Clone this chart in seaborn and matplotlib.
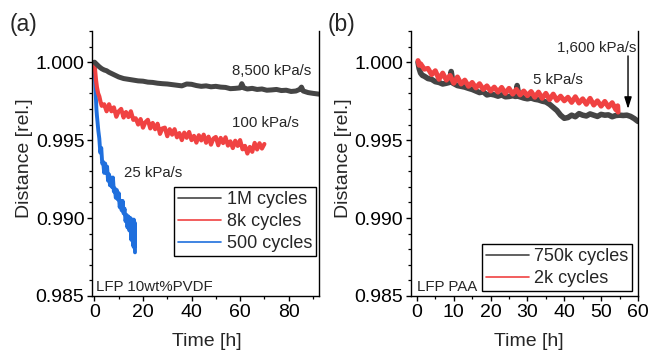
import numpy as np
import pandas as pd
import matplotlib
matplotlib.use("Agg")
import matplotlib.pyplot as plt
from matplotlib.ticker import MultipleLocator, FormatStrFormatter
from matplotlib.lines import Line2D
import seaborn as sns

# ---- data (time [h], relative distance) ----
# panel (a) LFP 10wt%PVDF
a_1m_t = [0, 1, 2, 3, 4, 5, 6, 8, 10, 12, 14, 16, 18, 20, 22, 24, 26, 28, 30, 32,
          34, 36, 38, 40, 42, 44, 46, 48, 50, 52, 54, 56, 58, 60, 60.7, 61.5, 63, 65,
          67, 69, 71, 73, 75, 77, 79, 81, 83, 84.5, 85.3, 86, 88, 90, 92.5]
a_1m_v = [1.0000, 0.99985, 0.9997, 0.99958, 0.9995, 0.99945, 0.99935, 0.9992, 0.99905,
          0.99895, 0.9989, 0.99885, 0.9988, 0.99878, 0.99872, 0.9987, 0.99865, 0.99862,
          0.9986, 0.99856, 0.99852, 0.99848, 0.9986, 0.99858, 0.9985, 0.99845, 0.99848,
          0.99842, 0.99845, 0.9984, 0.99838, 0.9983, 0.99832, 0.99835, 0.99862, 0.99835,
          0.99828, 0.99832, 0.99825, 0.99828, 0.9982, 0.99822, 0.99825, 0.99818, 0.9982,
          0.99812, 0.99815, 0.99825, 0.9984, 0.99815, 0.99805, 0.998, 0.99795]

a_8k_t = [0, 0.3, 0.6, 1.0, 1.5, 2.0, 2.5, 3, 4, 5, 6, 7, 8, 9, 10, 11, 12, 13, 14, 15,
          16, 17, 18, 19, 20, 21, 22, 23, 24, 25, 26, 27, 28, 29, 30, 31, 32, 33, 34,
          35, 36, 37, 38, 39, 40, 41, 42, 43, 44, 45, 46, 47, 48, 49, 50, 51, 52, 53,
          54, 55, 56, 57, 58, 59, 60, 61, 62, 63, 64, 65, 66, 67, 68, 69, 70]
a_8k_v = [1.0000, 0.9994, 0.9989, 0.9984, 0.9980, 0.9978, 0.99745, 0.9972, 0.9973,
          0.99685, 0.9973, 0.99685, 0.9971, 0.9965, 0.99685, 0.9970, 0.99645, 0.9968,
          0.99648, 0.99685, 0.9963, 0.9964, 0.9960, 0.99635, 0.9958, 0.99615, 0.9963,
          0.99575, 0.9961, 0.9957, 0.99605, 0.9954, 0.99575, 0.9958, 0.99525, 0.9957,
          0.99535, 0.9957, 0.99518, 0.99545, 0.9950, 0.99548, 0.99515, 0.99552, 0.9950,
          0.99527, 0.99484, 0.99531, 0.99498, 0.99535, 0.99483, 0.99522, 0.99471,
          0.9951, 0.9952, 0.99467, 0.99514, 0.99481, 0.99518, 0.99465, 0.99492,
          0.99449, 0.99496, 0.99463, 0.9950, 0.99441, 0.99463, 0.99414, 0.99456,
          0.99425, 0.99482, 0.9944, 0.9948, 0.99446, 0.99475]

a_500_t = [0, 0.2, 0.4, 0.6, 0.8, 1.0, 1.3, 1.6, 2.0, 2.4, 2.8, 3.2, 3.6, 4.0, 4.4,
           4.8, 5.2, 5.6, 6.0, 6.4, 6.8, 7.2, 7.6, 8.0, 8.4, 8.8, 9.2, 9.6, 10.0, 10.4,
           10.8, 11.2, 11.6, 12.0, 12.4, 12.8, 13.2, 13.6, 14.0, 14.4, 14.8, 15.2,
           15.6, 16.0, 16.2, 16.4, 16.6, 16.7]
a_500_v = [1.0000, 0.9991, 0.9983, 0.9977, 0.9970, 0.9966, 0.9961, 0.9956, 0.9951,
           0.9942, 0.9945, 0.9935, 0.9936, 0.9929, 0.9935, 0.9929, 0.9933, 0.9924,
           0.9928, 0.9921, 0.9926, 0.9920, 0.9926, 0.9917, 0.9919, 0.9913, 0.9918,
           0.9912, 0.9916, 0.9907, 0.9911, 0.9905, 0.9911, 0.9903, 0.9906, 0.9898,
           0.9902, 0.9894, 0.9901, 0.9892, 0.9900, 0.9886, 0.9899, 0.9882, 0.9899,
           0.9881, 0.9897, 0.9878]

# panel (b) LFP PAA
b_750k_t = [0.3, 0.6, 1.0, 1.5, 2, 3, 4, 5, 6, 7, 8, 8.8, 9.3, 9.8, 11, 12, 13, 14, 15,
            16, 17, 18, 19, 20, 21, 22, 23, 24, 25, 26, 26.8, 27.2, 27.7, 29, 30, 31,
            32, 33, 34, 35, 36, 37, 38, 39, 40, 41, 42, 43, 44, 45, 46, 47, 48, 49,
            50, 51, 52, 53, 54, 55, 56, 57, 58, 59, 60]
b_750k_v = [1.0000, 0.9996, 0.9993, 0.99915, 0.9991, 0.99895, 0.9989, 0.99875, 0.9987,
            0.9986, 0.99865, 0.9987, 0.9994, 0.99865, 0.9985, 0.99845, 0.9984, 0.99832,
            0.99825, 0.99815, 0.99805, 0.9981, 0.9979, 0.99795, 0.9979, 0.99782, 0.9979,
            0.99778, 0.9978, 0.99785, 0.9978, 0.9985, 0.9978, 0.9977, 0.99765, 0.9977,
            0.99762, 0.99758, 0.9975, 0.99745, 0.9973, 0.9971, 0.9969, 0.9966, 0.9964,
            0.99645, 0.9966, 0.9965, 0.9967, 0.9966, 0.99655, 0.99668, 0.9966, 0.99652,
            0.99665, 0.9966, 0.99662, 0.9965, 0.99658, 0.9966, 0.99658, 0.9966, 0.99652,
            0.99638, 0.9962]

b_2k_t = [0.3, 0.6, 1, 2, 3, 4, 5, 6, 7, 8, 9, 10, 11, 12, 13, 14, 15, 16, 17, 18, 19,
          20, 21, 22, 23, 24, 25, 26, 27, 28, 29, 30, 31, 32, 33, 34, 35, 36, 37, 38,
          39, 40, 41, 42, 43, 44, 45, 46, 47, 48, 49, 50, 51, 52, 53, 54, 54.5, 54.6]
b_2k_v = [1.0001, 0.9998, 0.9999, 0.99955, 0.9996, 0.9992, 0.99945, 0.9989, 0.9993,
          0.99885, 0.99915, 0.99865, 0.99905, 0.9986, 0.99885, 0.99845, 0.9987, 0.99835,
          0.99862, 0.99825, 0.99848, 0.99815, 0.9984, 0.99808, 0.99838, 0.9980, 0.99832,
          0.99795, 0.99825, 0.9979, 0.99815, 0.99785, 0.99812, 0.99775, 0.99808,
          0.99768, 0.9980, 0.9976, 0.99795, 0.99755, 0.99782, 0.99752, 0.99775,
          0.99742, 0.99778, 0.99738, 0.99765, 0.9973, 0.99768, 0.99725, 0.99752,
          0.99718, 0.99748, 0.99712, 0.9974, 0.99695, 0.9972, 0.9968]

BLACK = "#454545"
RED = "#f04242"
BLUE = "#1f6fdd"

sns.set_theme(style="ticks")
plt.rcParams["font.family"] = ["Liberation Sans", "DejaVu Sans"]
plt.rcParams["axes.linewidth"] = 1.0
plt.rcParams["xtick.major.size"] = 3.5
plt.rcParams["ytick.major.size"] = 3.5
plt.rcParams["xtick.minor.size"] = 2.2
plt.rcParams["ytick.minor.size"] = 2.2
plt.rcParams["xtick.color"] = "black"
plt.rcParams["ytick.color"] = "black"

fig = plt.figure(figsize=(6.49, 3.51), dpi=100)
ax1 = fig.add_axes([0.1418, 0.1567, 0.3497, 0.755])
ax2 = fig.add_axes([0.6333, 0.1567, 0.3497, 0.755])


def draw(ax, t, v, color, lw):
    df = pd.DataFrame({"t": t, "v": v})
    sns.lineplot(data=df, x="t", y="v", color=color, lw=lw, ax=ax,
                 sort=False, estimator=None, legend=False)


draw(ax1, a_500_t, a_500_v, BLUE, 2.8)
draw(ax1, a_8k_t, a_8k_v, RED, 3.0)
draw(ax1, a_1m_t, a_1m_v, BLACK, 3.6)
draw(ax2, b_750k_t, b_750k_v, BLACK, 4.0)
draw(ax2, b_2k_t, b_2k_v, RED, 3.6)

for ax in (ax1, ax2):
    ax.set_ylim(0.985, 1.002)
    ax.yaxis.set_major_locator(MultipleLocator(0.005))
    ax.yaxis.set_minor_locator(MultipleLocator(0.001))
    ax.yaxis.set_major_formatter(FormatStrFormatter("%.3f"))
    ax.tick_params(labelsize=14, width=1.0, pad=2)
    ax.tick_params(which="minor", width=0.9)
    ax.spines["top"].set_visible(False)
    for s in ax.spines.values():
        s.set_color("black")
    ax.set_ylabel("Distance [rel.]", fontsize=14)
    ax.set_xlabel("Time [h]", fontsize=14)
    ax.yaxis.set_label_coords(-0.26, 0.52)

ax1.set_xlim(-1, 92.5)
ax1.xaxis.set_major_locator(MultipleLocator(20))
ax1.xaxis.set_minor_locator(MultipleLocator(10))
ax1.xaxis.set_label_coords(0.507, -0.138)

ax2.set_xlim(-1.6, 60)
ax2.xaxis.set_major_locator(MultipleLocator(10))
ax2.xaxis.set_minor_locator(MultipleLocator(5))
ax2.xaxis.set_label_coords(0.52, -0.138)

# annotations
ann = dict(fontsize=10.8, va="center", ha="left")
ax1.text(56.6, 0.99942, "8,500 kPa/s", **ann)
ax1.text(56.6, 0.99609, "100 kPa/s", **ann)
ax1.text(12.0, 0.99288, "25 kPa/s", **ann)
ax1.text(0.018, 0.034, "LFP 10wt%PVDF", transform=ax1.transAxes, **ann)

ax2.text(31.5, 0.99885, "5 kPa/s", **ann)
ax2.text(38.0, 1.0009, "1,600 kPa/s", **ann)
ax2.text(0.026, 0.034, "LFP PAA", transform=ax2.transAxes, **ann)
ax2.annotate("", xy=(57.3, 0.9970), xytext=(57.3, 1.0004),
             arrowprops=dict(arrowstyle="-|>,head_length=0.7,head_width=0.22",
                             color="black", lw=1.0, mutation_scale=10,
                             shrinkA=0, shrinkB=0))

leg_kw = dict(fontsize=13, frameon=True, fancybox=False, framealpha=1,
              edgecolor="black", handlelength=2.4, handletextpad=0.3,
              labelspacing=0.29, borderpad=0.2, borderaxespad=0)

h1 = [Line2D([], [], color=BLACK, lw=1.2), Line2D([], [], color=RED, lw=1.2),
      Line2D([], [], color=BLUE, lw=1.2)]
lg1 = ax1.legend(h1, ["1M cycles", "8k cycles", "500 cycles"], loc="upper right",
                 bbox_to_anchor=(0.985, 0.41), **leg_kw)
lg1.get_frame().set_linewidth(1.0)

h2 = [Line2D([], [], color=BLACK, lw=1.2), Line2D([], [], color=RED, lw=1.2)]
lg2 = ax2.legend(h2, ["750k cycles", "2k cycles"], loc="lower right",
                 bbox_to_anchor=(0.975, 0.02), **leg_kw)
lg2.get_frame().set_linewidth(1.0)

fig.text(0.0154, 0.929, "(a)", fontsize=16.5, va="center", ha="left")
fig.text(0.505, 0.929, "(b)", fontsize=16.5, va="center", ha="left")

fig.savefig("out.png", dpi=100)
